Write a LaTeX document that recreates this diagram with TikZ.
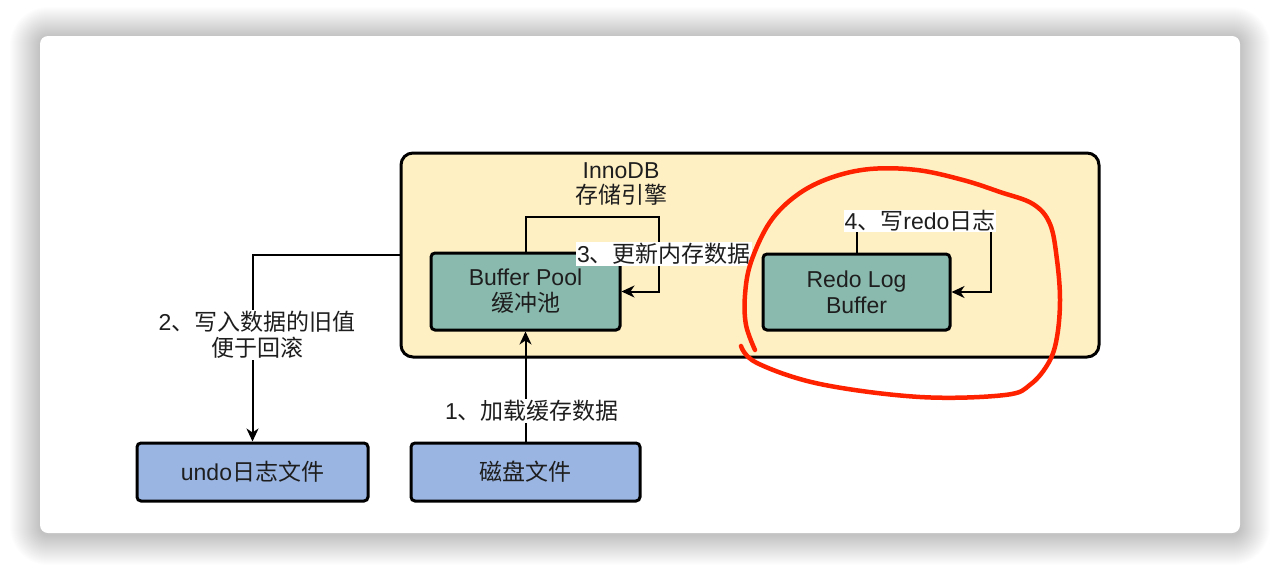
\documentclass[tikz,border=0pt]{standalone}
\usepackage{fontspec}
\setmainfont{Liberation Sans}
\newfontfamily\cjk{Noto Sans CJK SC}
\usetikzlibrary{arrows.meta}
\definecolor{inno}{HTML}{FFF0C4}
\definecolor{teal}{HTML}{8ABAAE}
\definecolor{blu}{HTML}{9AB5E2}
\definecolor{txt}{HTML}{1E1E1E}
\definecolor{pen}{HTML}{FF2200}
\tikzset{
  box/.style={draw=black, line width=3pt, rounded corners=4pt, text=txt, align=center,
    font=\fontsize{23}{26}\selectfont, inner sep=0pt},
  tealbox/.style={box, fill=teal},
  bluebox/.style={box, fill=blu},
  arr/.style={draw=black, line width=2pt, -{Stealth[length=13pt,width=12pt,inset=4pt]}},
  lbl/.style={fill=white, text=txt, align=center, inner sep=1pt,
    font=\fontsize{23}{26}\selectfont},
}
\begin{document}
\begin{tikzpicture}[x=1pt,y=-1pt]
\useasboundingbox (0,0) rectangle (1276,570);
\fill[white] (0,0) rectangle (1276,570);
\foreach \i in {1,...,30} {
  \fill[black, opacity=0.0065, rounded corners={8pt+\i pt}]
    (40-\i,36-\i+1) rectangle (1240+\i,533+\i+2);
}
\fill[white, rounded corners=8pt] (40,36) rectangle (1240,533);
% container
\node[box, fill=inno, rounded corners=12pt, minimum width=698pt, minimum height=204pt] (inno) at (750,255) {};
\node[text=txt, align=center, font=\fontsize{23}{25}\selectfont] (innotitle) at (621,184) {InnoDB\\{\cjk 存储引擎}};
% boxes
\node[tealbox, minimum width=189pt, minimum height=77pt] (buffer) at (525.5,291.5) {Buffer Pool\\{\cjk 缓冲池}};
\node[tealbox, minimum width=187pt, minimum height=76pt] (redo) at (856.5,292) {Redo Log\\Buffer};
\node[bluebox, minimum width=231pt, minimum height=58pt] (undo) at (252.5,472) {undo{\cjk 日志文件}};
\node[bluebox, minimum width=229pt, minimum height=58pt] (disk) at (525.5,472) {{\cjk 磁盘文件}};
% connectors
\draw[arr] (disk) -- (buffer);
\draw[arr] (inno.west) -| (undo.north);
\coordinate (c3) at (659,217);
\draw[arr] (buffer.north) |- (c3) |- (buffer.east);
\coordinate (c4) at (991,222);
\draw[arr] (redo.north) |- (c4) |- (redo.east);
% labels
\node[lbl] (l1) at (532,411) {1{\cjk 、加载缓存数据}};
\node[lbl] (l2) at (257,335) {2{\cjk 、写入数据的旧值}\\{\cjk 便于回滚}};
\node[lbl] (l3) at (664,254) {3{\cjk 、更新内存数据}};
\node[lbl] (l4) at (920,221) {4{\cjk 、写}redo{\cjk 日志}};
% red hand-drawn circle
\draw[pen, line width=4.5pt, line cap=round, line join=round]
  plot[smooth, tension=0.6] coordinates {
  (755,350) (746,325) (745,295) (751,262) (770,222) (797,195) (830,178) (870,169)
  (917,170) (963,180) (1000,192) (1033,204) (1050,224) (1057,260) (1060,300)
  (1057,337) (1049,362) (1031,384) (1005,395) (920,397) (820,384) (757,363) (741,346)};
\end{tikzpicture}
\end{document}
